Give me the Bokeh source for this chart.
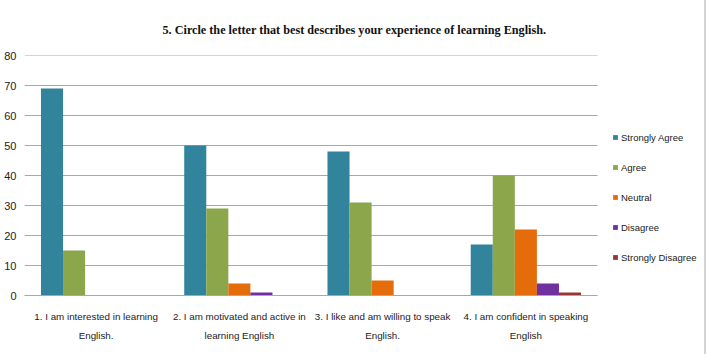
from bokeh.plotting import figure
from bokeh.models import ColumnDataSource, Legend, LegendItem, Title, FixedTicker
from bokeh.transform import dodge
from bokeh.embed import file_html
from bokeh.resources import INLINE

# Survey statements, written as two-line tick labels
statements = [
    "1. I am interested in learning\nEnglish.",
    "2. I am motivated and active in\nlearning English",
    "3. I like and am willing to speak\nEnglish.",
    "4. I am confident in speaking\nEnglish",
]

# Responses per statement
strongly_agree = [69, 50, 48, 17]
agree = [15, 29, 31, 40]
neutral = [0, 4, 5, 22]
disagree = [0, 1, 0, 4]
strongly_disagree = [0, 0, 0, 1]

series_names = ["Strongly Agree", "Agree", "Neutral", "Disagree", "Strongly Disagree"]
series_colors = ["#31849b", "#8ca64c", "#e46c0a", "#7030a0", "#953735"]

y_ticks = [0, 10, 20, 30, 40, 50, 60, 70, 80]

n_groups = len(statements)
centers = [i + 0.5 for i in range(n_groups)]

source = ColumnDataSource(data=dict(
    pos=centers,
    sa=strongly_agree, a=agree, n=neutral, d=disagree, sd=strongly_disagree,
))
fields = ["sa", "a", "n", "d", "sd"]

LABEL_FONT = "Liberation Sans"

# plot area runs to the right edge so the legend can sit beside the groups
PLOT_W, FRAME_L = 706, 24
groups_px = 573
x_end = n_groups * (PLOT_W - FRAME_L) / groups_px

p = figure(
    x_range=(0, x_end), y_range=(0, 80),
    width=PLOT_W, height=354,
    output_backend="svg", toolbar_location=None,
    min_border_left=FRAME_L, min_border_right=0,
    min_border_top=55, min_border_bottom=59,
)
p.styles = {"border-right": "2px solid #d4d4d4"}

p.title = Title(
    text="5. Circle the letter that best describes your experience of learning English.",
    text_font="Liberation Serif", text_font_style="bold",
    text_font_size="12.2px", align="left", offset=138, standoff=37,
    text_color="#111111",
)

# horizontal value lines, stopping at the last group
p.segment(x0=[0] * len(y_ticks), x1=[n_groups] * len(y_ticks), y0=y_ticks, y1=y_ticks,
          line_color="#a8a8a8", line_width=1)

bar_w = 0.154
offsets = [-2 * bar_w, -bar_w, 0, bar_w, 2 * bar_w]
renderers = []
for f, off, col in zip(fields, offsets, series_colors):
    r = p.vbar(x=dodge("pos", off), top=f, width=bar_w,
               source=source, fill_color=col, line_color=None)
    renderers.append(r)

legend = Legend(
    items=[LegendItem(label=n, renderers=[r]) for n, r in zip(series_names, renderers)],
    location=(588, 23),
    label_text_font=LABEL_FONT, label_text_font_size="9.5px",
    label_text_color="#222222",
    glyph_width=6, glyph_height=6, label_standoff=3,
    spacing=0, label_height=30, padding=0, margin=0,
    border_line_color=None, background_fill_alpha=0,
)
p.add_layout(legend, "center")

p.xgrid.grid_line_color = None
p.ygrid.grid_line_color = None
p.yaxis.ticker = y_ticks

p.yaxis.axis_line_color = None
p.yaxis.major_tick_out = 0
p.yaxis.major_tick_in = 0
p.yaxis.minor_tick_out = 0
p.yaxis.minor_tick_in = 0
p.yaxis.major_label_text_font = LABEL_FONT
p.yaxis.major_label_text_font_size = "11px"
p.yaxis.major_label_text_color = "#222222"
p.yaxis.major_label_standoff = 8

p.xaxis.ticker = FixedTicker(ticks=centers, minor_ticks=[])
p.xaxis.major_label_overrides = {c: s for c, s in zip(centers, statements)}
p.xaxis.bounds = (0, n_groups)
p.xaxis.axis_line_color = "#a8a8a8"
p.xaxis.major_tick_out = 0
p.xaxis.major_tick_in = 0
p.xaxis.minor_tick_out = 0
p.xaxis.minor_tick_in = 0
p.xaxis.major_label_text_font = LABEL_FONT
p.xaxis.major_label_text_font_size = "9.8px"
p.xaxis.major_label_text_line_height = 1.8
p.xaxis.major_label_text_color = "#222222"
p.xaxis.major_label_standoff = 15

p.outline_line_color = None

open("out.html", "w").write(file_html(p, INLINE))
